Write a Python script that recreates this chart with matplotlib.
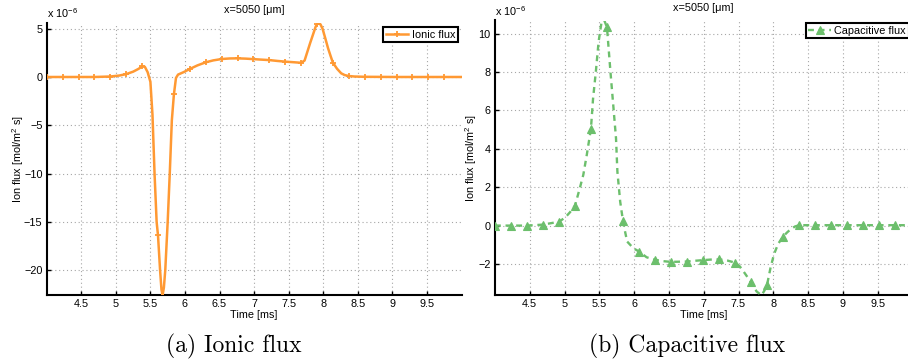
import numpy as np
import matplotlib
matplotlib.use("Agg")
import matplotlib.pyplot as plt

plt.rcParams['font.family'] = ['Liberation Sans', 'DejaVu Sans']
plt.rcParams['mathtext.fontset'] = 'custom'
plt.rcParams['mathtext.rm'] = 'Liberation Sans'
plt.rcParams['mathtext.it'] = 'Liberation Sans:italic'

# ---------------- data (flux values in units of 1e-6) ----------------
t_ionic = [4.00, 4.23, 4.46, 4.69, 4.92, 5.05, 5.15, 5.25, 5.33, 5.38, 5.42, 5.46,
           5.50, 5.53, 5.56, 5.59, 5.61, 5.64, 5.66, 5.676, 5.695, 5.715, 5.75,
           5.78, 5.81, 5.84, 5.87, 5.90, 5.98, 6.07, 6.18, 6.30, 6.41, 6.53, 6.65,
           6.76, 6.88, 6.99, 7.10, 7.22, 7.34, 7.45, 7.57, 7.68, 7.73, 7.77, 7.81,
           7.85, 7.89, 7.91, 7.93, 7.96, 7.99, 8.03, 8.07, 8.11, 8.14, 8.20, 8.26,
           8.31, 8.37, 8.45, 8.60, 8.83, 9.06, 9.29, 9.52, 9.75, 10.0]
y_ionic = [0.0, 0.0, 0.0, 0.0, 0.05, 0.15, 0.30, 0.55, 0.85, 1.10, 1.05, 0.5,
           -0.5, -3.9, -10.0, -15.0, -16.4, -20.0, -22.0, -22.6, -21.8, -20.0, -15.0,
           -10.0, -4.5, -1.8, -0.1, 0.25, 0.5, 0.83, 1.2, 1.52, 1.72, 1.86, 1.92,
           1.93, 1.90, 1.85, 1.80, 1.75, 1.66, 1.59, 1.53, 1.47, 1.7, 2.6, 3.5,
           4.35, 5.2, 5.45, 5.58, 5.45, 5.0, 4.0, 2.97, 2.1, 1.48, 0.85, 0.38,
           0.2, 0.1, 0.05, 0.02, 0.01, 0.0, 0.0, 0.0, 0.0, 0.0]

t_cap = [4.00, 4.23, 4.46, 4.69, 4.92, 5.01, 5.08, 5.15, 5.22, 5.27, 5.32, 5.38,
         5.41, 5.45, 5.49, 5.53, 5.57, 5.61, 5.63, 5.66, 5.70, 5.74, 5.76, 5.80,
         5.84, 5.87, 5.90, 5.99, 6.07, 6.18, 6.30, 6.41, 6.53, 6.65, 6.76, 6.88,
         6.99, 7.10, 7.22, 7.34, 7.45, 7.52, 7.59, 7.68, 7.76, 7.83, 7.87, 7.91,
         7.96, 8.01, 8.07, 8.14, 8.20, 8.25, 8.31, 8.37, 8.60, 8.83, 9.06, 9.29,
         9.52, 9.75, 10.0]
y_cap = [0.0, 0.0, 0.0, 0.05, 0.20, 0.42, 0.7, 1.03, 1.95, 2.64, 3.68, 5.05,
         6.6, 8.0, 9.58, 10.54, 10.7, 10.33, 9.41, 8.02, 6.29, 4.55, 2.81, 1.25,
         0.25, -0.31, -0.83, -1.18, -1.35, -1.65, -1.78, -1.85, -1.89, -1.88, -1.87, -1.83,
         -1.80, -1.77, -1.76, -1.82, -1.93, -2.13, -2.48, -2.95, -3.43, -3.63, -3.4, -3.09,
         -2.2, -1.49, -0.95, -0.57, -0.35, -0.19, -0.05, 0.02, 0.02, 0.02, 0.02, 0.02,
         0.02, 0.02, 0.02]

marker_times = [4.00, 4.23, 4.46, 4.69, 4.92, 5.15, 5.38, 5.61, 5.84, 6.07, 6.30,
                6.53, 6.76, 6.99, 7.22, 7.45, 7.68, 7.91, 8.14, 8.37, 8.60, 8.83,
                9.06, 9.29, 9.52, 9.75]

x_ticks = [4.5, 5, 5.5, 6, 6.5, 7, 7.5, 8, 8.5, 9, 9.5]
x_ticklabels = ['4.5', '5', '5.5', '6', '6.5', '7', '7.5', '8', '8.5', '9', '9.5']
y_ticks_ionic = [-20, -15, -10, -5, 0, 5]
y_ticks_cap = [-2, 0, 2, 4, 6, 8, 10]

title_text = 'x=5050 [\u03bcm]'
ylabel_text = 'Ion flux [mol/m$^2$ s]'
xlabel_text = 'Time [ms]'
scale_text = 'x 10$^{-6}$'
captions = ['(a) Ionic flux', '(b) Capacitive flux']

# ---------------- figure ----------------
W, H = 908, 362
fig = plt.figure(figsize=(W / 100, H / 100), dpi=100)

def px_axes(l, r, top, bottom):
    return fig.add_axes([l / W, 1 - bottom / H, (r - l) / W, (bottom - top) / H])

ax1 = px_axes(46.7, 461.5, 22.9, 295.3)
ax2 = px_axes(494.9, 912.5, 20.5, 295.3)

orange = '#FF9933'
green = '#6CBF6C'

idx_i = [int(np.argmin(np.abs(np.array(t_ionic) - m))) for m in marker_times]
idx_c = [int(np.argmin(np.abs(np.array(t_cap) - m))) for m in marker_times]

ax1.plot(t_ionic, y_ionic, '-', color=orange, lw=1.8, marker='+', ms=4.0, mew=1.3,
         markevery=idx_i, label='Ionic flux', zorder=3)
ax2.plot(t_cap, y_cap, color=green, lw=1.7, linestyle=(0, (2.5, 2.0)), marker='^',
         ms=5.5, mew=0.8, markevery=idx_c, label='Capacitive flux', zorder=3)

for ax, yt, ylim, ylab_x in [(ax1, y_ticks_ionic, (-22.6, 5.6), -0.070),
                             (ax2, y_ticks_cap, (-3.63, 10.68), -0.056)]:
    ax.set_xlim(4, 10)
    ax.set_ylim(*ylim)
    ax.set_xticks(x_ticks)
    ax.set_xticklabels(x_ticklabels)
    ax.set_yticks(yt)
    ax.grid(True, color='#a6a6a6', lw=0.8, linestyle=(0, (1, 2.5)))
    ax.set_axisbelow(True)
    for s in ['top', 'right']:
        ax.spines[s].set_visible(False)
    for s in ['left', 'bottom']:
        ax.spines[s].set_linewidth(1.5)
    ax.tick_params(direction='in', length=3, width=1, labelsize=7.8, pad=3)
    ax.set_xlabel(xlabel_text, fontsize=7.8, va='center')
    ax.xaxis.set_label_coords(0.5, -0.072)
    ax.set_ylabel(ylabel_text, fontsize=7.8, va='center')
    ax.yaxis.set_label_coords(ylab_x, 0.5)
    ax.text(0.5, 1.046, title_text, transform=ax.transAxes, ha='center', va='center',
            fontsize=7.8)
    ax.text(0.0, 1.018, scale_text, transform=ax.transAxes, ha='left', va='baseline',
            fontsize=7.8)

leg_kw = dict(fontsize=7.8, frameon=True, fancybox=False, framealpha=1,
              borderpad=0.25, handlelength=2.1, handletextpad=0.3, borderaxespad=0,
              numpoints=1)
l1 = ax1.legend(loc='upper left', bbox_to_anchor=(383 / W, 1 - 27 / H),
                bbox_transform=fig.transFigure, **leg_kw)
l2 = ax2.legend(loc='upper left', bbox_to_anchor=(805.7 / W, 1 - 23 / H),
                bbox_transform=fig.transFigure, **leg_kw)
for lg in (l1, l2):
    lg.get_frame().set_edgecolor('black')
    lg.get_frame().set_linewidth(1.5)

fig.text(234 / W, 1 - 346.5 / H, captions[0], ha='center', va='center',
         fontsize=17, family='cmr10')
fig.text(687 / W, 1 - 346.5 / H, captions[1], ha='center', va='center',
         fontsize=17, family='cmr10')

fig.savefig('out.png', dpi=100)
